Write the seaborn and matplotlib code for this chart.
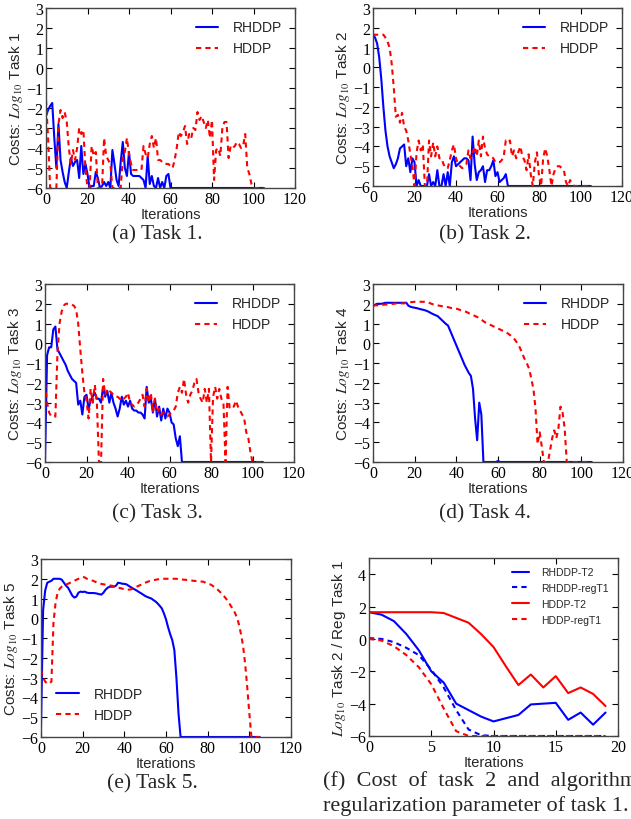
import numpy as np
import pandas as pd
import matplotlib
matplotlib.use("Agg")
import matplotlib.pyplot as plt
import seaborn as sns

# --- data (log10 costs per iteration) ---
iters = list(range(106))

t1_rhddp = [-2.4, -2.1, -1.9, -1.75, -3.5, -5.0, -2.8, -4.6, -5.2, -5.7,
            -6, -5.2, -4.5, -4.9, -4.7, -4.6, -5.5, -3.9, -5.3, -4.8,
            -5.3, -6, -5.9, -5.9, -5.2, -5.5, -6, -5.9, -5.7, -5.9,
            -5.7, -6, -4.1, -4.8, -5.6, -5.9, -4.7, -3.7, -5.0, -5.4,
            -4.2, -5.3, -5.4, -5.4, -5.4, -5.4, -5.5, -5.6, -6, -4.4,
            -5.8, -5.4, -5.9, -6, -5.5, -6, -5.7, -6, -5.4, -5.3] + [-6] * 46
t1_hddp = [-1.6, -3.5, -6, -6, -6, -6, -2.8, -2.1, -2.5, -2.2,
           -2.7, -4.0, -4.8, -4.1, -4.6, -4.0, -3.0, -3.3, -3.1, -5.0,
           -6, -6, -3.9, -4.4, -4.2, -6, -6, -6, -3.5, -4.4,
           -4.6, -4.8, -6, -6, -6, -6, -6, -4.5, -4.2, -3.5,
           -4.3, -4.8, -5.1, -5.1, -5.1, -5.1, -5.1, -3.9, -4.3, -4.5,
           -3.8, -3.4, -4.0, -3.5, -4.6, -4.6, -4.7, -4.7, -4.8, -4.8,
           -4.9, -5.0, -4.6, -4.0, -3.2, -3.4, -3.2, -2.9, -3.8, -3.3,
           -3.5, -3.0, -3.1, -2.2, -2.6, -2.4, -2.7, -3.0, -2.6, -3.5,
           -2.6, -5.6, -4.1, -4.0, -4.4, -3.0, -2.7, -2.7, -4.5, -3.9,
           -4.0, -3.9, -3.7, -3.8, -4.0, -3.9, -3.3, -5.0, -5.3, -5.8] + [-6] * 6

t2_rhddp = [1.65, 1.5, 1.2, 0.5, -0.6, -2.0, -3.2, -4.0, -4.5, -4.8,
            -5.1, -4.9, -4.6, -4.1, -4.0, -3.9, -5.0, -4.6, -5.3, -4.6,
            -4.8, -6, -5.7, -6, -6, -6, -6, -5.4, -6, -5.8,
            -6, -5.2, -6, -6, -5.4, -6, -5.3, -6, -4.8, -4.5,
            -5.0, -4.9, -4.8, -4.7, -4.6, -4.6, -4.7, -5.7, -3.5, -4.9,
            -5.7, -5.3, -5.2, -5.0, -5.8, -5.2, -5.2, -5.0, -4.7, -5.5,
            -5.3, -5.8, -5.7, -5.6, -5.4] + [-6] * 41
t2_hddp = [1.65, 1.65, 1.65, 1.65, 1.65, 1.65, 1.5, 1.3, 1.0, 0.2,
           -1.0, -2.5, -2.4, -2.8, -2.3, -3.0, -3.2, -3.7, -4.4, -5.0,
           -6, -4.3, -3.7, -4.2, -3.9, -6, -6, -3.7, -4.5, -3.8,
           -4.5, -4.0, -4.6, -4.6, -4.9, -5.1, -5.1, -4.7, -4.2, -3.9,
           -4.6, -4.9, -5.0, -5.1, -5.0, -4.9, -4.2, -4.6, -4.3, -4.0,
           -4.5, -3.7, -4.5, -3.5, -4.1, -4.4, -4.5, -4.5, -4.6, -4.8,
           -4.8, -4.8, -4.7, -4.5, -3.7, -3.8, -3.7, -4.5, -4.2, -4.6,
           -4.3, -4.0, -4.5, -4.7, -5.2, -4.4, -5.4, -6, -4.8, -4.3,
           -5.5, -6, -4.6, -4.1, -4.5, -5.2, -6, -5.4, -5.1, -5.0,
           -5.0, -5.1, -5.2, -5.8, -6, -5.7, -5.9] + [-6] * 9

t3_rhddp = [-6, -0.6, -0.2, -0.2, 0.7, 0.85, -0.3, -0.5, -0.7, -0.9,
            -1.1, -1.4, -1.6, -1.8, -1.9, -2.0, -3.1, -2.9, -3.6, -2.7,
            -2.6, -3.3, -2.9, -2.7, -2.5, -2.8, -2.8, -3.0, -2.2, -2.7,
            -2.4, -3.0, -2.5, -3.0, -3.3, -3.7, -3.3, -2.7, -3.1, -2.9,
            -3.2, -2.9, -3.3, -3.4, -3.4, -3.5, -3.5, -3.6, -3.8, -2.2,
            -3.0, -2.8, -3.5, -2.8, -3.7, -3.2, -3.9, -3.3, -3.8, -3.3,
            -3.5, -4.0, -4.1, -4.8, -5.2, -4.7] + [-6] * 40
t3_hddp = [-2.0, -3.0, -3.5, -3.7, -3.7, -3.7, -0.5, 1.0, 1.6, 1.9,
           2.0, 2.0, 2.0, 1.95, 1.9, 1.7, 1.0, -0.3, -1.5, -2.5,
           -2.9, -3.8, -2.3, -3.0, -2.1, -3.0, -6, -6, -1.8, -2.6,
           -2.3, -2.4, -2.5, -2.6, -2.7, -2.7, -2.8, -2.9, -2.8, -2.7,
           -2.5, -3.0, -3.1, -3.2, -3.1, -3.0, -2.8, -2.6, -3.2, -2.3,
           -3.0, -2.5, -3.5, -2.8, -3.5, -3.3, -3.6, -3.5, -3.6, -3.7,
           -3.6, -3.5, -3.4, -3.2, -2.5, -2.2, -2.5, -1.8, -2.6, -3.0,
           -2.6, -2.4, -2.0, -1.8, -2.5, -2.8, -3.0, -2.3, -3.0, -2.3,
           -6, -2.7, -2.2, -2.8, -2.3, -2.8, -3.0, -6, -2.2, -3.3,
           -3.2, -3.2, -2.9, -3.2, -3.4, -3.6, -3.8, -4.5, -4.8, -5.5] + [-6] * 6

t4_rhddp = [1.9, 1.95, 2.0, 2.0, 2.0, 2.02, 2.05, 2.05, 2.05, 2.05,
            2.05, 2.05, 2.05, 2.05, 2.05, 2.05, 2.05, 1.9, 1.85, 1.82,
            1.8, 1.78, 1.75, 1.72, 1.7, 1.67, 1.63, 1.58, 1.52, 1.47,
            1.42, 1.38, 1.28, 1.18, 1.08, 0.98, 0.9, 0.65, 0.4, 0.15,
            -0.1, -0.35, -0.6, -0.85, -1.1, -1.3, -1.5, -1.65, -2.3, -3.8,
            -4.9, -3.0, -3.6, -6, -6, -6, -6, -6, -6, -6,
            -5.95] + [-6] * 45
t4_hddp = [1.9, 1.92, 1.92, 1.93, 1.94, 1.95, 1.96, 1.97, 1.98, 1.99,
           2.0, 2.02, 2.02, 2.02, 2.02, 2.02, 2.05, 2.07, 2.08, 2.09,
           2.1, 2.1, 2.1, 2.1, 2.1, 2.1, 2.1, 2.05, 2.0, 1.97,
           1.95, 1.92, 1.9, 1.88, 1.86, 1.85, 1.83, 1.8, 1.78, 1.76,
           1.75, 1.72, 1.68, 1.65, 1.62, 1.58, 1.52, 1.48, 1.43, 1.38,
           1.33, 1.27, 1.2, 1.12, 1.05, 1.0, 0.95, 0.9, 0.85, 0.8,
           0.75, 0.7, 0.65, 0.6, 0.55, 0.48, 0.4, 0.3, 0.2, 0.05,
           -0.1, -0.35, -0.6, -0.85, -1.05, -1.3, -1.8, -2.3, -3.3, -5.1,
           -4.5, -5.2, -6, -6, -6, -5.4, -4.8, -4.4, -4.8, -4.3,
           -3.2, -3.5, -4.3] + [-6] * 13

t5_rhddp = [-5.5, 0.4, 1.4, 1.8, 1.85, 1.9, 2.0, 2.0, 2.0, 2.0,
            1.95, 1.8, 1.65, 1.55, 1.35, 1.15, 1.05, 1.1, 1.3, 1.35,
            1.33, 1.35, 1.3, 1.28, 1.28, 1.28, 1.27, 1.25, 1.22, 1.2,
            1.3, 1.45, 1.55, 1.6, 1.6, 1.6, 1.65, 1.8, 1.78, 1.75,
            1.74, 1.72, 1.65, 1.58, 1.52, 1.46, 1.4, 1.33, 1.27, 1.2,
            1.13, 1.08, 1.04, 1.0, 0.92, 0.85, 0.75, 0.63, 0.5, 0.25,
            -0.05, -0.45, -0.8, -1.1, -1.6, -3.0, -4.8] + [-6] * 39
t5_hddp = [-2.6, -3.0, -3.2, -3.3, -3.3, -3.2, -0.2, 0.8, 1.3, 1.5,
           1.6, 1.65, 1.7, 1.75, 1.8, 1.85, 1.9, 1.95, 2.0, 2.05,
           2.1, 2.07, 2.0, 1.97, 1.93, 1.9, 1.85, 1.8, 1.76, 1.74,
           1.72, 1.7, 1.68, 1.66, 1.65, 1.62, 1.58, 1.55, 1.53, 1.5,
           1.47, 1.45, 1.45, 1.46, 1.5, 1.55, 1.6, 1.65, 1.7, 1.75,
           1.8, 1.84, 1.88, 1.91, 1.93, 1.95, 1.97, 1.98, 1.99, 2.0,
           2.0, 2.0, 2.0, 2.0, 2.0, 2.0, 1.98, 1.97, 1.96, 1.95,
           1.94, 1.93, 1.92, 1.9, 1.89, 1.88, 1.87, 1.86, 1.85, 1.8,
           1.77, 1.73, 1.67, 1.6, 1.52, 1.43, 1.33, 1.22, 1.1, 0.97,
           0.82, 0.65, 0.48, 0.3, 0.05, -0.3, -0.8, -1.4, -2.3, -3.5,
           -4.8, -6, -6, -6, -6, -6]

# panel (f): first 20 iterations, task 2 cost and task 1 regularisation
iters_f = list(range(20))
rhddp_t2 = [1.65, 1.5, 1.1, 0.3, -0.7, -2.0, -2.7, -4.0, -4.4, -4.8,
            -5.1, -4.9, -4.7, -4.05, -4.0, -3.95, -5.0, -4.55, -5.3, -4.55]
rhddp_reg = [0.05, 0.0, -0.2, -0.55, -1.0, -1.9, -3.0, -4.4, -5.6, -5.95,
             -6, -6, -6, -6, -6, -6, -6, -6, -6, -6]
hddp_t2 = [1.65, 1.65, 1.65, 1.65, 1.65, 1.65, 1.6, 1.3, 1.0, 0.3,
           -0.5, -1.7, -2.85, -2.2, -3.0, -2.3, -3.35, -3.0, -3.4, -4.15]
hddp_reg = [0.0, -0.1, -0.45, -1.0, -1.75, -2.8, -4.3, -5.7, -6, -6,
            -6, -6, -6, -6, -6, -6, -6, -6, -6, -6]

tasks = [(t1_rhddp, t1_hddp), (t2_rhddp, t2_hddp), (t3_rhddp, t3_hddp),
         (t4_rhddp, t4_hddp), (t5_rhddp, t5_hddp)]
captions = ["(a) Task 1.", "(b) Task 2.", "(c) Task 3.", "(d) Task 4.", "(e) Task 5."]

# --- style ---
sns.set_style("ticks")
plt.rcParams["font.family"] = ["Liberation Sans", "DejaVu Sans"]
plt.rcParams["mathtext.fontset"] = "stix"
plt.rcParams["xtick.direction"] = "in"
plt.rcParams["ytick.direction"] = "in"
plt.rcParams["xtick.top"] = True
plt.rcParams["ytick.right"] = True
plt.rcParams["axes.edgecolor"] = "#444444"

DASH = (0, (2.5, 2))

W, H = 631, 820
fig = plt.figure(figsize=(W / 100, H / 100), dpi=100)


def box(left, top, right, bottom):
    return [left / W, 1 - bottom / H, (right - left) / W, (bottom - top) / H]


boxes = [box(46, 9, 295, 189), box(373, 9, 622, 187), box(45, 285, 294, 463),
         box(373, 285, 623, 463), box(41, 560, 291, 738)]
cap_pos = [(157, 235), (485, 235), (157, 514), (485, 514), (152, 784)]


def style_axes(ax):
    for lab in ax.get_xticklabels() + ax.get_yticklabels():
        lab.set_fontfamily("Liberation Serif")
        lab.set_fontsize(11.5)
    ax.tick_params(length=4, width=0.8, pad=2, colors="black")
    for s in ax.spines.values():
        s.set_linewidth(1.0)


for i, (blue, red) in enumerate(tasks):
    ax = fig.add_axes(boxes[i])
    sns.lineplot(x=iters, y=blue, ax=ax, color="#0000ff", lw=1.5, label="RHDDP")
    sns.lineplot(x=iters, y=red, ax=ax, color="#ff0000", lw=1.5, linestyle=DASH,
                 label="HDDP")
    ax.set_xlim(0, 120)
    ax.set_ylim(-6, 3)
    ax.set_xticks(range(0, 121, 20))
    ax.set_yticks(range(-6, 4))
    ax.set_xlabel("Iterations", fontsize=10.5, labelpad=0)
    ax.set_ylabel("Costs: $Log_{10}$ Task %d" % (i + 1), fontsize=11, labelpad=1)
    if i == 4:
        ax.legend(loc="lower left", frameon=False, fontsize=10, handlelength=1.6,
                  handletextpad=1.1, borderaxespad=0.7, labelspacing=0.5)
    else:
        ax.legend(loc="upper right", frameon=False, fontsize=10, handlelength=1.6,
                  handletextpad=1.1, borderaxespad=0.5, labelspacing=0.5)
    style_axes(ax)
    cx, cy = cap_pos[i]
    fig.text(cx / W, 1 - cy / H, captions[i], ha="center", va="center",
             family="Liberation Serif", fontsize=15.5)

# panel (f)
ax = fig.add_axes(box(369, 559, 618, 737))
sns.lineplot(x=iters_f, y=rhddp_t2, ax=ax, color="#0000ff", lw=1.5, label="RHDDP-T2")
sns.lineplot(x=iters_f, y=rhddp_reg, ax=ax, color="#0000ff", lw=1.5, linestyle=DASH,
             label="RHDDP-regT1")
sns.lineplot(x=iters_f, y=hddp_t2, ax=ax, color="#ff0000", lw=1.5, label="HDDP-T2")
sns.lineplot(x=iters_f, y=hddp_reg, ax=ax, color="#ff0000", lw=1.5, linestyle=DASH,
             label="HDDP-regT1")
ax.set_xlim(0, 20)
ax.set_ylim(-6, 5)
ax.set_xticks(range(0, 21, 5))
ax.set_yticks(range(-6, 5, 2))
ax.set_xlabel("Iterations", fontsize=10.5, labelpad=0)
ax.set_ylabel("$Log_{10}$ Task 2 / Reg Task 1", fontsize=11, labelpad=1)
ax.legend(loc="upper right", frameon=False, fontsize=7.5, handlelength=1.6,
          handletextpad=1.2, labelspacing=0.55, borderaxespad=0.5)
style_axes(ax)

fig.text(323 / W, 1 - 781 / H, "(f)  Cost  of  task  2  and  algorithm",
         ha="left", va="center", family="Liberation Serif", fontsize=16)
fig.text(323 / W, 1 - 806 / H, "regularization parameter of task 1.",
         ha="left", va="center", family="Liberation Serif", fontsize=16)

fig.savefig("out.png", dpi=100)
